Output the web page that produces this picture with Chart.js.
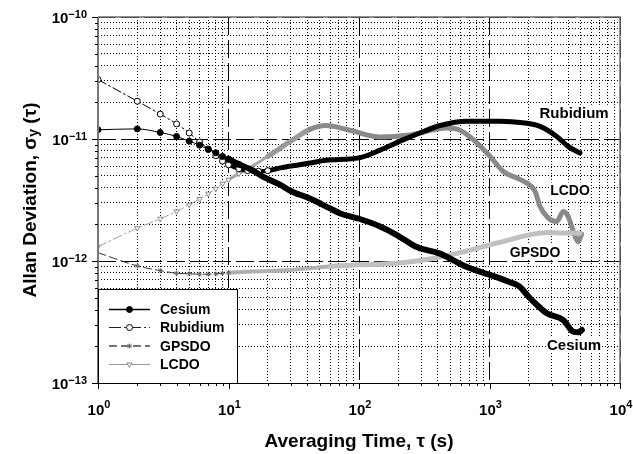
<!DOCTYPE html>
<html><head><meta charset="utf-8">
<script src="https://cdn.jsdelivr.net/npm/chart.js@4.4.1/dist/chart.umd.min.js"></script>
<style>html,body{margin:0;padding:0;background:#fff;}canvas{display:block;}</style>
</head><body>
<canvas id="c" width="633" height="454"></canvas>
<script>
// ---------- data ----------
const seriesNames = ['Cesium', 'Rubidium', 'GPSDO', 'LCDO'];

const cesiumTau   = [1,2,3,4,5,6,7,8,9,10,12,15,18.5,25,30,42,60,72,100,145,194,277,417,630,897,1009,1436,1692,2043,2292,2744,3680,4390,4800,5100];
const cesiumSigma = [1.19e-11,1.21e-11,1.13e-11,1.05e-11,9.6e-12,8.9e-12,8.2e-12,7.7e-12,7.2e-12,6.85e-12,6.2e-12,5.6e-12,4.9e-12,4.2e-12,3.75e-12,3.25e-12,2.7e-12,2.45e-12,2.22e-12,1.92e-12,1.64e-12,1.3e-12,1.15e-12,9.2e-13,8.0e-13,7.7e-13,6.7e-13,6.2e-13,4.95e-13,4.4e-13,3.73e-13,3.28e-13,2.63e-13,2.6e-13,2.72e-13];

const rubidiumTau   = [1,2,3,4,5,6,7,8,9,10,12,14,17,20,25,35,42,56,100,145,206,293,418,669,1203,1800,2440,3273,4000,4936];
const rubidiumSigma = [3.07e-11,2.04e-11,1.6e-11,1.33e-11,1.12e-11,9.45e-12,8.28e-12,7.3e-12,6.6e-12,6.15e-12,5.7e-12,5.5e-12,5.45e-12,5.5e-12,5.8e-12,6.15e-12,6.35e-12,6.7e-12,7.0e-12,8.1e-12,9.6e-12,1.12e-11,1.29e-11,1.40e-11,1.40e-11,1.36e-11,1.27e-11,1.05e-11,8.7e-12,7.67e-12];

const gpsdoTau   = [1,2,3,4,5,6,7,8,9,10,15,30,60,100,194,350,630,1136,2043,2744,3500,4936];
const gpsdoSigma = [1.17e-12,9.12e-13,8.34e-13,7.94e-13,7.86e-13,7.8e-13,7.8e-13,7.85e-13,7.94e-13,8.0e-13,8.2e-13,8.45e-13,9.0e-13,9.3e-13,9.6e-13,1.04e-12,1.19e-12,1.40e-12,1.64e-12,1.71e-12,1.70e-12,1.69e-12];

const lcdoTau   = [1,2,3,4,5,6,7,8,9,10,12,14,20,30,42,56,85,145,246,470,594,751,1009,1276,1615,1928,2233,2440,2824,3273,3680,4020,4390,4790,5080];
const lcdoSigma = [1.31e-12,1.86e-12,2.22e-12,2.55e-12,2.89e-12,3.22e-12,3.56e-12,3.91e-12,4.3e-12,4.63e-12,5.2e-12,5.7e-12,7.2e-12,9.6e-12,1.2e-11,1.29e-11,1.18e-11,1.04e-11,1.08e-11,1.23e-11,1.18e-11,9.87e-12,7.2e-12,5.42e-12,4.79e-12,4.36e-12,3.72e-12,2.8e-12,2.25e-12,2.11e-12,2.55e-12,2.3e-12,1.74e-12,1.44e-12,1.66e-12];

const xTickExponents = [0, 1, 2, 3, 4];
const yTickExponents = [-13, -12, -11, -10];
const xAxisTitle = 'Averaging Time, \u03C4 (s)';
const yAxisTitleParts = ['Allan Deviation, \u03C3', 'y', ' (\u03C4)'];
const curveLabels = ['Rubidium', 'LCDO', 'GPSDO', 'Cesium'];
const curveLabelTau = [4446, 4140, 2233, 4446];
const curveLabelSigma = [1.64e-11, 3.78e-12, 1.19e-12, 2.05e-13];

// ---------- helpers ----------
const FONT = '"Liberation Sans", Arial, sans-serif';
function pts(t, s) { return t.map((v, i) => ({ x: v, y: s[i] })); }
function logTicks(exps) {
  const out = [];
  for (let i = 0; i < exps.length; i++) {
    const b = Math.pow(10, exps[i]);
    out.push({ value: b, major: true });
    if (i < exps.length - 1) for (let m = 2; m <= 9; m++) out.push({ value: parseFloat((m * b).toPrecision(3)), major: false });
  }
  return out;
}
// style levels: [fromTau, width, color, dash]
function seg(levels) {
  const pick = c => { let L = levels[0]; for (const l of levels) if (c.p0.parsed.x >= l[0]) L = l; return L; };
  return {
    borderWidth: c => pick(c)[1],
    borderColor: c => pick(c)[2],
    borderDash: c => pick(c)[3]
  };
}
function markUpTo(lim, r) { return c => (c.raw && c.raw.x <= lim) ? r : 0; }

const datasets = [
  { label: seriesNames[0], data: pts(cesiumTau, cesiumSigma), borderColor: '#000', borderWidth: 1,
    segment: seg([[0, 1, '#000', []], [10, 6, '#000', []]]), pointStyle: 'circle', pointRadius: markUpTo(12, 3),
    pointBackgroundColor: '#000', pointBorderColor: '#000', pointBorderWidth: 1,
    legendColor: '#000', legendDash: [], legendWidth: 1.5 },
  { label: seriesNames[1], data: pts(rubidiumTau, rubidiumSigma), borderColor: '#000', borderWidth: 1,
    segment: seg([[0, 1, '#000', [9, 3, 2, 3]], [10, 4, '#000', []], [20, 5, '#000', []]]), pointStyle: 'circle', pointRadius: markUpTo(20, 3),
    pointBackgroundColor: '#fff', pointBorderColor: '#000', pointBorderWidth: 1,
    legendColor: '#222', legendDash: [12, 3, 2, 3], legendWidth: 1 },
  { label: seriesNames[2], data: pts(gpsdoTau, gpsdoSigma), borderColor: '#333', borderWidth: 1,
    segment: seg([[0, 1, '#333', [8, 4]], [10, 4, '#b0b0b0', []], [60, 5, '#c0c0c0', []]]), pointStyle: 'star',
    pointRadius: c => (c.raw && c.raw.x >= 2 && c.raw.x <= 10) ? 2.5 : 0,
    pointBackgroundColor: '#666', pointBorderColor: '#666', pointBorderWidth: 1,
    legendColor: '#444', legendDash: [8, 4], legendWidth: 1.5 },
  { label: seriesNames[3], data: pts(lcdoTau, lcdoSigma), borderColor: '#a0a0a0', borderWidth: 1,
    segment: seg([[0, 1, '#a0a0a0', [9, 3, 2, 3]], [10, 3, '#a8a8a8', []], [20, 5, '#9a9a9a', []], [42, 5, '#8a8a8a', []]]),
    pointStyle: 'triangle', pointRotation: 180,
    pointRadius: markUpTo(14, 3), pointBackgroundColor: '#fff', pointBorderColor: '#8c8c8c', pointBorderWidth: 1,
    legendColor: '#999', legendDash: [], legendWidth: 1 }
];

function gridOpts() {
  return { display: true, drawTicks: false, tickLength: 0, color: '#000', lineWidth: 1 };
}

const deco = {
  id: 'deco',
  afterDraw(chart) {
    const ctx = chart.ctx, a = chart.chartArea, xs = chart.scales.x, ys = chart.scales.y;
    ctx.save();
    ctx.setLineDash([]);
    // frame
    ctx.strokeStyle = '#6e6e6e'; ctx.lineWidth = 1.5;
    ctx.beginPath(); ctx.moveTo(a.left, a.top); ctx.lineTo(a.right, a.top); ctx.lineTo(a.right, a.bottom); ctx.stroke();
    ctx.strokeStyle = '#777'; ctx.lineWidth = 2;
    ctx.beginPath(); ctx.moveTo(a.left, a.bottom); ctx.lineTo(a.left, a.top); ctx.stroke();
    ctx.strokeStyle = '#000'; ctx.lineWidth = 1;
    ctx.beginPath(); ctx.moveTo(a.left - 6, a.bottom + 0.5); ctx.lineTo(a.right, a.bottom + 0.5); ctx.stroke();
    // tick marks
    ctx.lineWidth = 1; ctx.strokeStyle = '#000';
    xs.ticks.forEach(t => {
      const x = Math.round(xs.getPixelForValue(t.value)) + 0.5, len = t.major ? 6 : 3;
      ctx.beginPath(); ctx.moveTo(x, a.bottom); ctx.lineTo(x, a.bottom + len); ctx.stroke();
    });
    ys.ticks.forEach(t => {
      const y = Math.round(ys.getPixelForValue(t.value)) + 0.5, len = t.major ? 6 : 3;
      ctx.beginPath(); ctx.moveTo(a.left - len, y); ctx.lineTo(a.left, y); ctx.stroke();
    });
    // tick labels
    ctx.fillStyle = '#000';
    const bigF = 'bold 15px ' + FONT, supF = 'bold 11px ' + FONT;
    yTickExponents.forEach(e => {
      const y = ys.getPixelForValue(Math.pow(10, e));
      const sup = String(e).replace('-', '\u2212');
      ctx.font = supF; const sw = ctx.measureText(sup).width;
      const right = a.left - 11;
      ctx.textAlign = 'left'; ctx.textBaseline = 'alphabetic';
      ctx.fillText(sup, right - sw, y + 0.5);
      ctx.font = bigF; ctx.textAlign = 'right'; ctx.textBaseline = 'middle';
      ctx.fillText('10', right - sw, y + 1.5);
    });
    xTickExponents.forEach(e => {
      const x = xs.getPixelForValue(Math.pow(10, e));
      const sup = String(e);
      ctx.font = bigF; const bw = ctx.measureText('10').width;
      ctx.font = supF; const sw = ctx.measureText(sup).width;
      const left = x - (bw + sw) / 2 + 1;
      ctx.font = bigF; ctx.textAlign = 'left'; ctx.textBaseline = 'middle';
      ctx.fillText('10', left, a.bottom + 28);
      ctx.font = supF; ctx.textBaseline = 'alphabetic';
      ctx.fillText(sup, left + bw, a.bottom + 25);
    });
    // axis titles
    ctx.font = 'bold 19px ' + FONT; ctx.textAlign = 'center'; ctx.textBaseline = 'middle';
    ctx.fillText(xAxisTitle, (a.left + a.right) / 2, a.bottom + 59);
    ctx.save();
    ctx.translate(31, (a.top + a.bottom) / 2);
    ctx.rotate(-Math.PI / 2);
    const f1 = 'bold 19px ' + FONT, f2 = 'bold 14px ' + FONT;
    ctx.font = f1; const w0 = ctx.measureText(yAxisTitleParts[0]).width, w2 = ctx.measureText(yAxisTitleParts[2]).width;
    ctx.font = f2; const w1 = ctx.measureText(yAxisTitleParts[1]).width;
    let sx = -(w0 + w1 + w2) / 2;
    ctx.textAlign = 'left'; ctx.textBaseline = 'middle';
    ctx.font = f1; ctx.fillText(yAxisTitleParts[0], sx, 0); sx += w0;
    ctx.font = f2; ctx.fillText(yAxisTitleParts[1], sx, 3); sx += w1;
    ctx.font = f1; ctx.fillText(yAxisTitleParts[2], sx, 0);
    ctx.restore();
    // curve labels
    const labelFonts = [15, 14, 14, 15];
    curveLabels.forEach((txt, i) => {
      const x = xs.getPixelForValue(curveLabelTau[i]), y = ys.getPixelForValue(curveLabelSigma[i]);
      ctx.font = 'bold ' + labelFonts[i] + 'px ' + FONT;
      const w = ctx.measureText(txt).width;
      ctx.fillStyle = '#fff'; ctx.fillRect(x - w / 2 - 1, y - 8, w + 2, 16);
      ctx.fillStyle = '#000'; ctx.textAlign = 'center'; ctx.textBaseline = 'middle';
      ctx.fillText(txt, x, y + 1);
    });
    // legend box
    const bx = a.left, by = 289, bw2 = 237 - a.left, bh = a.bottom - by;
    ctx.fillStyle = '#fff'; ctx.fillRect(bx, by, bw2, bh);
    ctx.strokeStyle = '#000'; ctx.lineWidth = 1;
    ctx.strokeRect(bx + 0.5, by + 0.5, bw2, bh);
    const rowY = [309.5, 327.5, 346, 364.5];
    chart.data.datasets.forEach((ds, i) => {
      const y = rowY[i];
      ctx.strokeStyle = ds.legendColor; ctx.lineWidth = ds.legendWidth; ctx.setLineDash(ds.legendDash);
      ctx.beginPath(); ctx.moveTo(109, y); ctx.lineTo(150, y); ctx.stroke();
      ctx.setLineDash([]);
      ctx.fillStyle = ds.pointBackgroundColor; ctx.strokeStyle = ds.pointBorderColor; ctx.lineWidth = 1;
      if (Chart.helpers && Chart.helpers.drawPoint) {
        Chart.helpers.drawPoint(ctx, { pointStyle: ds.pointStyle, rotation: ds.pointRotation || 0, radius: ds.pointStyle === 'star' ? 2.5 : 3, borderWidth: 1 }, 129.5, y);
      }
      ctx.fillStyle = '#000'; ctx.font = 'bold 14px ' + FONT; ctx.textAlign = 'left'; ctx.textBaseline = 'middle';
      ctx.fillText(ds.label, 160, y + 1);
    });
    ctx.restore();
  }
};

new Chart(document.getElementById('c'), {
  type: 'line',
  data: { datasets },
  options: {
    responsive: false, animation: false, events: [],
    devicePixelRatio: 1,
    layout: { padding: { left: 98, right: 13, top: 17, bottom: 71 } },
    elements: { line: { borderCapStyle: 'round', borderJoinStyle: 'round', cubicInterpolationMode: 'monotone' } },
    plugins: { legend: { display: false }, tooltip: { enabled: false } },
    scales: {
      x: {
        type: 'logarithmic', min: 1, max: 10000,
        afterBuildTicks: s => { s.ticks = logTicks(xTickExponents); },
        afterFit: s => { s.height = 0; },
        ticks: { display: false },
        grid: gridOpts(),
        border: { display: false, dash: c => (c.tick && c.tick.major) ? [18, 5] : [1, 2] }
      },
      y: {
        type: 'logarithmic', min: 1e-13, max: 1e-10,
        afterBuildTicks: s => { s.ticks = logTicks(yTickExponents); },
        afterFit: s => { s.width = 0; },
        ticks: { display: false },
        grid: gridOpts(),
        border: { display: false, dash: c => (c.tick && c.tick.major) ? [18, 5] : [1, 2] }
      }
    }
  },
  plugins: [deco]
});
</script>
</body></html>
